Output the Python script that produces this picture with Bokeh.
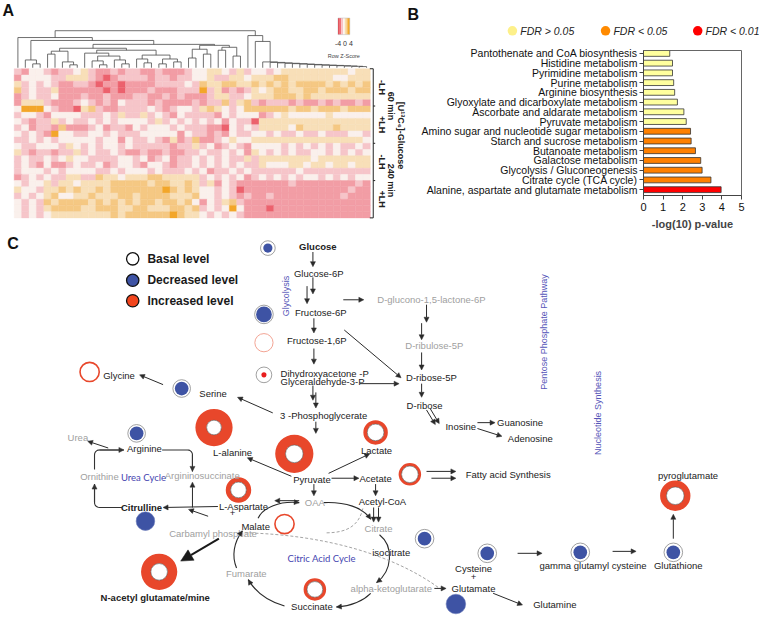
import math
from bokeh.plotting import figure
from bokeh.layouts import column, row
from bokeh.models import (Range1d, FixedTicker, Arrow, NormalHead,
                          ColumnDataSource, LinearColorMapper)
from bokeh.core.properties import value
from bokeh.embed import file_html
from bokeh.resources import INLINE

FONT = "Liberation Sans"
CYC_FONT = "Lato"

# ======================= DATA =======================
# ---- Panel B : pathway enrichment (top to bottom) ----
pathways = [
    "Pantothenate and CoA biosynthesis",
    "Histidine metabolism",
    "Pyrimidine metabolism",
    "Purine metabolism",
    "Arginine biosynthesis",
    "Glyoxylate and dicarboxylate metabolism",
    "Ascorbate and aldarate metabolism",
    "Pyruvate metabolism",
    "Amino sugar and nucleotide sugar metabolism",
    "Starch and sucrose metabolism",
    "Butanoate metabolism",
    "Galactose metabolism",
    "Glycolysis / Gluconeogenesis",
    "Citrate cycle (TCA cycle)",
    "Alanine, aspartate and glutamate metabolism",
]
neg_log10_p = [1.34, 1.48, 1.48, 1.54, 1.59, 1.73, 2.06, 2.18,
               2.40, 2.43, 2.65, 2.92, 2.99, 3.44, 3.96]
fdr_class = [0, 0, 0, 0, 0, 0, 0, 0, 1, 1, 1, 1, 1, 1, 2]
fdr_labels = ["FDR > 0.05", "FDR < 0.05", "FDR < 0.01"]
x_ticks_b = [0, 1, 2, 3, 4, 5]
x_title_b = "-log(10) p-value"

# ---- Panel A : row z-score heatmap (24 samples x 48 metabolites) ----
# a=-3 (red) ... d=0 (white) ... g=+3 (orange)
zscore_rows = [
    "cbddcbcc decbbcbc cbbcbbbc ddeedcec ddcdeeee eeeeedee",
    "bddddcce eecbabcc ccbccbcc ddecceed eeeffeee eeeddeee",
    "ecdcdcbb ccbabbab bbbccccd cfeeffee fefefeff ffefefef",
    "fcdccebb bbbbabab bbcbbbcc cgcebcbc edeffeef fefffeff",
    "bcdccdbb bcbbcbbb ccbbcbcb bbceeccd eeefffef eeeeeeee",
    "beeecbbb cdcbcbdc ccbcbbbb cbccfcef cbcccbcb bcbcbbcb",
    "dgggdcbb aefcbbcc ccdcbcdd cefedcdf fffffeff efffefff",
    "cddcbddd dcccdcec cecdcbdc cccbdcdd dbcdeddd ddeddddd",
    "dcbccecd ccdcdcdd ddcecdcd cdcdbdcc aeeeeeee eeeeeeee",
    "cdbccbfb bbcdbccb dcdddcdc ccbbadcd ceeeedfe eeefeeee",
    "dcdcbgdd ccddcdcc cdddddbd ccbcbdcc ddcdccdc cdcccddc",
    "ccdcdcdd dddcddbd ccdcbebc fbbcdedd eeeeeeee eeeeeeed",
    "dccdddce dcdcddcd cccccbcc ecdbcdcb ddddcdcd cdcdccdc",
    "ecbccbcc ecdccdcb bcbbcbbc cdccdcdb edcdcdcc ddcdcdcd",
    "cdccdcde ddccccdd cdbcdbcc dcdcdcce ceeeeeee deeeeeee",
    "cdcbdbbc dccdbcdd cbddcbcc dcdcdcdc cedddeed eedeedee",
    "cdddcdcd dddccdcd ddcdcccd cdbccdcd ccccccdc cccccccc",
    "bcdcdcce eccfeede eeffeeee ecdcdcdb cdcdcdcd dcdcdcdd",
    "dcddecee deeeefff ffeffeef ecebdcbb bbbbbcbb bbbbbbcb",
    "eddceefe feefefff ffffgfef eddcdcab bbbbbbbb bbbbbcbb",
    "cdcdefdd eefeeeff effffeee fddcdcbc bbcbbbbb bbbbcbbb",
    "dcdcfeff ffefefef effeffef dbdcefcb bbbbbbbb bbbbbbbb",
    "dcdcefff feefffee ffeeeffe fcdcdgdb bbabbbbb bbbbbbbb",
    "dcdcdeee eeeeefef fffffgfe edcdcdcb bbbbbbbb bbbbbbbb",
]
zscore_levels = {"a": -3, "b": -2, "c": -1, "d": 0, "e": 1, "f": 2, "g": 3}
group_labels = ["-LH", "+LH", "-LH", "+LH"]
time_labels = ["60 min", "240 min"]
tracer_label = "[U\u00b9\u00b3C\u2086]-Glucose"
key_tick_text = "-4 0 4"
key_title = "Row Z-Score"

# column dendrogram: (left, right, merge height)
A1 = (1, (2, 3, 4), 8)
B1 = ((4, 5, 14), (6, (7, 8, 3), 6), 17)
B3 = (9, ((10, (11, 12, 3), 7), (13, (14, 15, 4), 8), 12), 15)
B4 = ((16, (17, 18, 5), 9), ((19, 20, 4), (21, 22, 6), 9), 13)
M1 = (((23, 24, 10), (25, 26, 14), 19), ((27, 28, 18), (29, 30, 12), 21), 23)
comb_leaves = list(range(33, 47))
comb_heights = [6.0, 5.5, 5.0, 4.6, 4.2, 3.8, 3.4, 3.0, 2.7, 2.4, 2.1, 1.8, 1.5, 1.2]

# ---- Panel C : pathway map ----
legend_c = ["Basal level", "Decreased level", "Increased level"]

# ======================= STYLE =======================
HM_PALETTE = ["#EC616D", "#F29DA5", "#F6C5C9", "#FAF0EC", "#F8DFB8", "#F5C883", "#F3A629"]
BAR_COLORS = ["#FFFF9E", "#FF8000", "#FF0000"]
LEG_COLORS = ["#FDF08A", "#FF8A00", "#FF0000"]
RED = "#E8472B"
BLUE = "#3E53A4"
GREY_T = "#A0A0A0"
INK = "#222222"
CYC_BLUE = "#4545B0"
LBL = "9.5px"

SX = 759.0 / 775.0
SY = 624.0 / 640.0


def blank(w, h, xr, yr):
    p = figure(width=w, height=h, x_range=Range1d(*xr), y_range=Range1d(*yr),
               output_backend="svg", toolbar_location=None,
               x_axis_location=None, y_axis_location=None,
               min_border_left=0, min_border_right=0,
               min_border_top=0, min_border_bottom=0)
    p.xgrid.visible = False
    p.ygrid.visible = False
    p.outline_line_color = None
    return p


def texts(p, xs, ys, labels, size=LBL, color=INK, align="center",
          style="normal", angle=0.0, font=FONT):
    src = ColumnDataSource(dict(x=list(xs), y=list(ys), t=list(labels)))
    p.text(x="x", y="y", text="t", source=src, text_font=value(font),
           text_font_size=size, text_color=color, text_align=align,
           text_baseline="middle", text_font_style=style, angle=angle)


def arrows(p, segs, color=INK, width=1.0, head=5):
    x0, y0, x1, y1 = zip(*segs)
    src = ColumnDataSource(dict(x0=x0, y0=y0, x1=x1, y1=y1))
    p.add_layout(Arrow(end=NormalHead(size=head, fill_color=color, line_color=color,
                                      line_width=0.5),
                       x_start="x0", y_start="y0", x_end="x1", y_end="y1",
                       source=src, line_color=color, line_width=width))


# ======================= PANEL A =======================
WA, HA = 406, 232
pA = blank(WA, HA, (0, 415), (238, 0))

HM_X0, HM_X1, HM_Y0, HM_Y1 = 14.0, 378.0, 70.0, 223.0
rows_clean = [r.replace(" ", "") for r in zscore_rows]
n_rows = len(rows_clean)
n_cols = len(rows_clean[0])
CW = (HM_X1 - HM_X0) / n_cols
RH = (HM_Y1 - HM_Y0) / n_rows
hx, hy, hz = [], [], []
for i, r in enumerate(rows_clean):
    for j, ch in enumerate(r):
        hx.append(HM_X0 + (j + 0.5) * CW)
        hy.append(HM_Y0 + (i + 0.5) * RH)
        hz.append(zscore_levels[ch])
mapper = LinearColorMapper(palette=HM_PALETTE, low=-3.5, high=3.5)
hsrc = ColumnDataSource(dict(x=hx, y=hy, z=hz))
pA.rect(x="x", y="y", width=CW, height=RH, source=hsrc,
        fill_color={"field": "z", "transform": mapper},
        line_color={"field": "z", "transform": mapper}, line_width=0.4)

# dendrogram
comb = 47
for leaf, h in zip(reversed(comb_leaves), reversed(comb_heights)):
    comb = (leaf, comb, h)
R2 = (32, comb, 27)
RR = (31, R2, 33)
L3 = ((B1, (B3, B4, 18), 20), M1, 24)
LL = (0, (A1, L3, 28), 31)
root = (LL, RR, 38)

DEND_BASE = 69.0
seg = []


def walk(node):
    if isinstance(node, int):
        return HM_X0 + (node + 0.5) * CW, 0.0
    a, b, h = node
    xa, ha = walk(a)
    xb, hb = walk(b)
    seg.append((xa, DEND_BASE - ha, xa, DEND_BASE - h))
    seg.append((xb, DEND_BASE - hb, xb, DEND_BASE - h))
    seg.append((xa, DEND_BASE - h, xb, DEND_BASE - h))
    return (xa + xb) / 2.0, h


walk(root)
sx0, sy0, sx1, sy1 = zip(*seg)
pA.segment(x0=list(sx0), y0=list(sy0), x1=list(sx1), y1=list(sy1),
           line_color="#4a4a4a", line_width=0.8)

# colour key
KX0, KX1, KY0, KY1 = 345.0, 357.0, 18.0, 35.0
KEY_COLORS = ["#E8303A", "#F07078", "#F8C4C6", "#FBF6F2", "#F9DDAE", "#F6BF63", "#F3A21A"]
kw = (KX1 - KX0) / len(KEY_COLORS)
pA.quad(left=[KX0 + k * kw for k in range(len(KEY_COLORS))],
        right=[KX0 + (k + 1) * kw for k in range(len(KEY_COLORS))],
        bottom=[KY1] * len(KEY_COLORS), top=[KY0] * len(KEY_COLORS),
        fill_color=KEY_COLORS, line_color=None)
pA.rect(x=[(KX0 + KX1) / 2], y=[(KY0 + KY1) / 2], width=KX1 - KX0, height=KY1 - KY0,
        fill_color=None, line_color="#bbbbbb", line_width=0.5)
texts(pA, [351], [44], [key_tick_text], size="7px", color="#333")
texts(pA, [351], [57], [key_title], size="5.5px", color="#444")

# group bracket
BX = 381.0
bounds = [HM_Y0 + k * (HM_Y1 - HM_Y0) / 4 for k in range(5)]
pA.segment(x0=[BX], y0=[HM_Y0], x1=[BX], y1=[HM_Y1], line_color="#222", line_width=1)
pA.segment(x0=[BX - 3.5, BX - 3.5] + [BX] * 3, y0=[bounds[0], bounds[4]] + bounds[1:4],
           x1=[BX, BX] + [BX + 2] * 3, y1=[bounds[0], bounds[4]] + bounds[1:4],
           line_color="#222", line_width=1)
gmid = [(bounds[k] + bounds[k + 1]) / 2 for k in range(4)]
texts(pA, [389.5] * 4, gmid, group_labels, size="9px", style="bold", angle=-math.pi / 2)
texts(pA, [399] * 2, [bounds[1], bounds[3]], time_labels, size="9px", style="bold",
      angle=-math.pi / 2)
texts(pA, [409], [bounds[2] - 8], [tracer_label], size="9px", style="bold",
      angle=-math.pi / 2)
texts(pA, [2], [10], ["A"], size="16px", style="bold", align="left", color="#111")

# ======================= PANEL B =======================
WB = 759 - WA
HEAD_Y = 44.0
HBH = int(round(HEAD_Y * SY))
pBh = blank(WB, HBH, (415, 775), (HEAD_Y, 0))
texts(pBh, [416], [14], ["B"], size="16px", style="bold", align="left", color="#111")
leg_x = [523, 618, 712]
pBh.scatter(x=leg_x, y=[31] * 3, marker="circle", size=9.5, fill_color=LEG_COLORS,
            line_color=None)
texts(pBh, [x + 8 for x in leg_x], [31] * 3, fdr_labels, size="10.5px",
      style="italic", align="left", color="#222")

B_LEFT, B_RIGHT, B_TOP, B_BOT = 657.0, 757.0, 51.0, 200.0
HB = HA - HBH
pB = figure(width=WB, height=HB, x_range=Range1d(0, 5), y_range=Range1d(-0.6, 14.3),
            output_backend="svg", toolbar_location=None,
            min_border_left=int(round((B_LEFT - 415) * SX)),
            min_border_right=int(round((775 - B_RIGHT) * SX)),
            min_border_top=int(round((B_TOP - HEAD_Y) * SY)),
            min_border_bottom=int(round((238 - B_BOT) * SY)))
ypos = [len(pathways) - 1 - i for i in range(len(pathways))]
pB.hbar(y=ypos, left=0, right=neg_log10_p, height=0.6,
        fill_color=[BAR_COLORS[c] for c in fdr_class], line_color="#333", line_width=0.8)
pB.xgrid.visible = False
pB.ygrid.visible = False
pB.outline_line_color = "#666"
pB.xaxis.ticker = FixedTicker(ticks=x_ticks_b)
pB.yaxis.ticker = FixedTicker(ticks=ypos)
pB.yaxis.major_label_overrides = {y: name for y, name in zip(ypos, pathways)}
for ax in (pB.xaxis, pB.yaxis):
    ax.major_label_text_font = FONT
    ax.major_label_text_color = "#111"
    ax.axis_line_color = "#444"
    ax.major_tick_line_color = "#444"
    ax.minor_tick_line_color = None
    ax.major_tick_in = 0
    ax.major_tick_out = 4
pB.yaxis.major_label_text_font_size = "10.5px"
pB.yaxis.major_label_standoff = 2
pB.xaxis.major_label_text_font_size = "11px"
pB.xaxis.major_label_standoff = 3
pB.xaxis.axis_label = x_title_b
pB.xaxis.axis_label_text_font = FONT
pB.xaxis.axis_label_text_font_style = "bold"
pB.xaxis.axis_label_text_font_size = "11px"
pB.xaxis.axis_label_standoff = 4

# ======================= PANEL C =======================
WC, HC = 759, 624 - HA
pC = blank(WC, HC, (0, 775), (640, 238))
texts(pC, [7], [249], ["C"], size="16px", style="bold", align="left", color="#111")

# legend
pC.circle(x=[135] * 3, y=[265, 287, 308], radius=6.3,
          fill_color=["white", BLUE, "#F2451D"], line_color="#111", line_width=1.3)
texts(pC, [150] * 3, [265, 287, 308], legend_c, size="12px", style="bold",
      align="left", color="#1a1a1a")

# increased metabolites (red rings): x, y, outer, inner
inc = [(218, 438, 19, 7.5), (300, 465, 19.5, 9), (383, 443, 12.5, 8.5),
       (418, 486, 11.5, 8.5), (243, 502, 13, 8), (162, 586, 18.5, 8.5),
       (321, 604, 11.5, 8), (689, 508, 15.5, 9)]
ix, iy, io, ii = zip(*inc)
pC.annulus(x=list(ix), y=list(iy), inner_radius=list(ii), outer_radius=list(io),
           fill_color=RED, line_color=None)
pC.circle(x=list(ix), y=list(iy), radius=list(ii), fill_color="white",
          line_color="#555", line_width=0.6)
# thin red rings
pC.circle(x=[290, 91], y=[537, 381], radius=9.8, fill_color="white",
          line_color=RED, line_width=1.6)
pC.circle(x=[269], y=[351], radius=9.3, fill_color="white",
          line_color="#F3A494", line_width=1.0)
# decreased (blue with white ring)
dec = [(273, 254, 7.5, 4.7), (269, 322, 9.5, 8), (185, 398, 9, 7), (139, 444, 9, 7),
       (433, 552, 9.5, 7), (497, 567, 9.5, 7), (592, 566, 9.5, 7), (687, 566, 9.5, 7)]
dx, dy, do, di = zip(*dec)
pC.circle(x=list(dx), y=list(dy), radius=list(do), fill_color="white",
          line_color="#888", line_width=0.8)
pC.circle(x=list(dx), y=list(dy), radius=list(di), fill_color=BLUE, line_color=None)
pC.circle(x=[148, 465], y=[534, 619], radius=[9.5, 10], fill_color=BLUE,
          line_color="#6a7ab8", line_width=0.6)
# DHAP
pC.circle(x=[269], y=[384], radius=8, fill_color="white", line_color="#888", line_width=0.8)
pC.circle(x=[269], y=[384], radius=2.6, fill_color="#E81E1E", line_color=None)


# urea cycle frame
def corner(cx, cy, r, a0, a1, n=6):
    return [(cx + r * math.cos(a0 + (a1 - a0) * k / n),
             cy + r * math.sin(a0 + (a1 - a0) * k / n)) for k in range(n + 1)]


UL, UR, UT, UB, RC = 96.0, 196.0, 461.0, 520.0, 5.0
paths = [
    [(UL, 481)] + corner(UL + RC, UT + RC, RC, math.pi, 1.5 * math.pi) + [(126, UT)],
    [(165, UT)] + corner(UR - RC, UT + RC, RC, 1.5 * math.pi, 2 * math.pi) + [(UR, 483)],
    [(124, UB)] + corner(UL + RC, UB - RC, RC, 0.5 * math.pi, math.pi) + [(UL, 496)],
]
pC.multi_line(xs=[[q[0] for q in pth] for pth in paths],
              ys=[[q[1] for q in pth] for pth in paths], line_color="#333", line_width=1.1)
heads = []
for pth in paths:
    (xa, ya), (xb, yb) = pth[-2], pth[-1]
    heads.append((xa, ya, xb, yb))
arrows(pC, heads, color="#333", width=1.1, head=5)

# straight reactions
reactions = [
    (319, 258, 319, 273), (313, 293, 313, 311), (319, 284, 319, 301),
    (350, 307, 371, 307), (435, 312, 435, 330), (430, 331, 430, 348),
    (320, 326, 320, 341), (351, 338, 409, 387), (430, 361, 430, 379),
    (320, 357, 320, 373), (367, 393, 407, 393), (430, 393, 430, 407),
    (319, 395, 319, 410), (322, 402, 322, 418), (278, 423, 242, 407),
    (166, 394, 142, 384), (435, 420, 444, 435), (439, 419, 448, 434),
    (487, 433, 505, 433), (487, 439, 512, 447), (322, 432, 322, 444),
    (297, 488, 252, 469), (335, 485, 377, 465), (338, 490, 366, 490),
    (435, 483, 465, 483), (440, 490, 465, 490), (383, 496, 383, 508),
    (381, 520, 381, 535), (386, 520, 386, 535), (320, 496, 320, 508),
    (305, 513, 280, 513), (110, 459, 89, 452), (222, 519, 166, 520),
    (UR, UB, UR, 494), (212, 529, 192, 522), (443, 603, 455, 603),
    (503, 608, 533, 620), (528, 567, 553, 567), (625, 565, 649, 565),
    (687, 552, 687, 527),
]
arrows(pC, reactions, color="#2a2a2a", width=1.0, head=5)
arrows(pC, [(223, 552, 184, 575)], color="#1a1a1a", width=2.0, head=12)

# curved reactions (cubic bezier) with arrowheads
curves = [
    ((263, 531), (268, 520), (285, 513), (305, 515)),
    ((330, 515), (352, 514), (370, 520), (378, 532)),
    ((387, 548), (402, 560), (400, 585), (384, 597)),
    ((378, 608), (370, 616), (358, 621), (343, 622)),
    ((290, 621), (272, 616), (260, 606), (253, 594)),
    ((241, 582), (236, 570), (238, 556), (247, 544)),
]
bx0, by0, bc0x, bc0y, bc1x, bc1y, bx1, by1 = [], [], [], [], [], [], [], []
ch = []
for (p0, c0, c1, p1) in curves:
    bx0.append(p0[0]); by0.append(p0[1]); bc0x.append(c0[0]); bc0y.append(c0[1])
    bc1x.append(c1[0]); bc1y.append(c1[1]); bx1.append(p1[0]); by1.append(p1[1])
    vx, vy = p1[0] - c1[0], p1[1] - c1[1]
    n = math.hypot(vx, vy)
    ch.append((p1[0] - 2.5 * vx / n, p1[1] - 2.5 * vy / n, p1[0], p1[1]))
pC.bezier(x0=bx0, y0=by0, cx0=bc0x, cy0=bc0y, cx1=bc1x, cy1=bc1y, x1=bx1, y1=by1,
          line_color="#2a2a2a", line_width=1.1)
arrows(pC, ch, color="#2a2a2a", width=1.0, head=5)

# dashed links
pC.bezier(x0=[370, 250], y0=[521, 546], cx0=[366, 330], cy0=[538, 548],
          cx1=[355, 400], cy1=[546, 568], x1=[332, 447], y1=[546, 602],
          line_color="#9a9a9a", line_width=0.9, line_dash="3 2")

# labels
black = [
    ("Glucose-6P", 325, 280), ("Fructose-6P", 327, 320), ("Fructose-1,6P", 323, 349),
    ("D-ribose-5P", 440, 387), ("D-ribose", 433, 415), ("3 -Phosphoglycerate", 330, 426),
    ("Serine", 217, 403), ("Glycine", 121, 385), ("Inosine", 470, 437),
    ("Lactate", 384, 462), ("L-alanine", 237, 464), ("Pyruvate", 318, 491),
    ("Acetate", 383, 490), ("Acetyl-CoA", 390, 514), ("isocitrate", 399, 566),
    ("Cysteine", 483, 583), ("+", 483, 591), ("Glutamate", 483, 603),
    ("gamma glutamyl cysteine", 605, 579), ("Glutathione", 692, 579),
    ("pyroglutamate", 702, 487), ("Glutamine", 566, 620), ("Succinate", 318, 622),
    ("Arginine", 147, 460), ("+", 237, 526),
]
texts(pC, [b[1] for b in black], [b[2] for b in black], [b[0] for b in black])
left_black = [
    ("Dihydroxyacetone -P", 286, 383), ("Glyceraldehyde-3-P", 286, 391),
    ("Guanosine", 507, 433), ("Adenosine", 518, 449), ("Fatty acid Synthesis", 475, 486),
    ("L-Aspartate", 223, 519), ("Malate", 246, 539),
]
texts(pC, [b[1] for b in left_black], [b[2] for b in left_black],
      [b[0] for b in left_black], align="left")
bold = [("Glucose", 324, 252), ("Citrulline", 144, 520),
        ("N-acetyl glutamate/mine", 158, 612)]
texts(pC, [b[1] for b in bold], [b[2] for b in bold], [b[0] for b in bold], style="bold")
grey = [
    ("D-glucono-1,5-lactone-6P", 440, 307), ("D-ribulose-5P", 443, 354), ("Urea", 79, 448),
    ("Ornithine", 101, 488), ("Argininosuccinate", 206, 487), ("OAA", 321, 515),
    ("Citrate", 386, 542), ("Carbamyl phosphate", 217, 547), ("Fumarate", 251, 588),
    ("alpha-ketoglutarate", 399, 603),
]
texts(pC, [b[1] for b in grey], [b[2] for b in grey], [b[0] for b in grey], color=GREY_T)
texts(pC, [146, 328], [489, 572], ["Urea Cycle", "Citric Acid Cycle"], size="9.5px",
      color=CYC_BLUE, font=CYC_FONT)
texts(pC, [292, 555, 610], [303, 340, 423],
      ["Glycolysis", "Pentose Phosphate Pathway", "Nucleotide Synthesis"],
      size="9px", color="#5555B8", angle=math.pi / 2)

b_col = column(row(pBh, spacing=0), row(pB, spacing=0), spacing=0)
layout = column(row(pA, b_col, spacing=0), pC, spacing=0)
open("out.html", "w").write(file_html(layout, INLINE, title="metabolomics"))
